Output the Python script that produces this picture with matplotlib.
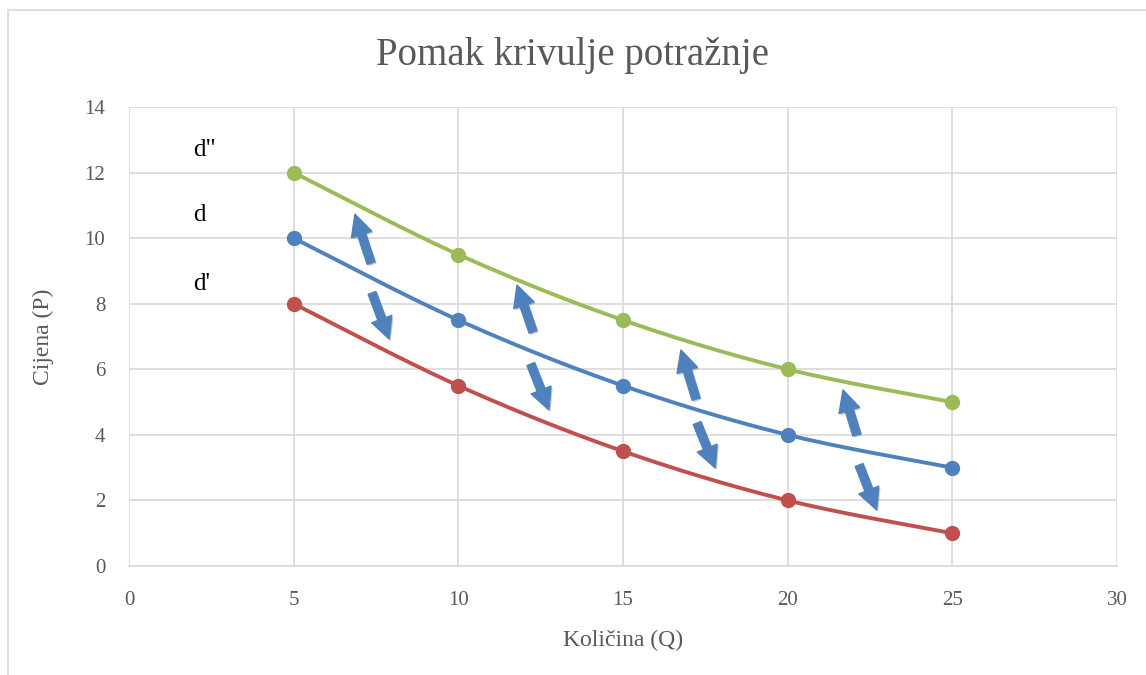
import numpy as np
import matplotlib
matplotlib.use("Agg")
import matplotlib.pyplot as plt
from matplotlib.patches import FancyArrowPatch, Rectangle
import matplotlib.patheffects as pe

# ---- data ----
quantity = [5, 10, 15, 20, 25]
price_d2 = [12, 9.5, 7.5, 6, 5]      # d''
price_d = [10, 7.5, 5.5, 4, 3]       # d
price_d1 = [8, 5.5, 3.5, 2, 1]       # d'
curve_labels = ['d"', 'd', "d'"]
label_y = [12.7, 10.7, 8.6]
label_x = 1.95

# arrows (tail x, tail y, head x, head y)
arrows_up = [(7.35, 9.24, 6.86, 10.73), (12.27, 7.14, 11.78, 8.57),
             (17.22, 5.09, 16.76, 6.59), (22.1, 4.0, 21.68, 5.37)]
arrows_down = [(7.38, 8.33, 7.9, 6.92), (12.2, 6.16, 12.75, 4.76),
               (17.25, 4.36, 17.8, 2.99), (22.17, 3.08, 22.7, 1.71)]

x_ticks = [0, 5, 10, 15, 20, 25, 30]
y_ticks = [0, 2, 4, 6, 8, 10, 12, 14]

title = "Pomak krivulje potražnje"
xlabel = "Količina (Q)"
ylabel = "Cijena (P)"

plt.rcParams['font.family'] = ['Liberation Serif', 'DejaVu Serif']


def smooth(xs, ys, n=40):
    """Excel-like smoothed line (Catmull-Rom Bezier)"""
    x = np.asarray(xs, float)
    y = np.asarray(ys, float)
    px = np.concatenate([[x[0]], x, [x[-1]]])
    py = np.concatenate([[y[0]], y, [y[-1]]])
    ox, oy = [], []
    t = np.linspace(0, 1, n)
    for i in range(1, len(x)):
        p0 = np.array([px[i - 1], py[i - 1]])
        p1 = np.array([px[i], py[i]])
        p2 = np.array([px[i + 1], py[i + 1]])
        p3 = np.array([px[i + 2], py[i + 2]])
        c1 = p1 + (p2 - p0) / 6
        c2 = p2 - (p3 - p1) / 6
        b = ((1 - t) ** 3)[:, None] * p1 + (3 * (1 - t) ** 2 * t)[:, None] * c1 \
            + (3 * (1 - t) * t ** 2)[:, None] * c2 + (t ** 3)[:, None] * p2
        ox.extend(b[:, 0])
        oy.extend(b[:, 1])
    return ox, oy


fig = plt.figure(figsize=(11.46, 6.75), dpi=100)
fig.patches.append(Rectangle((8 / 1146, -0.01), 1.1, 1 - 10 / 675 + 0.01,
                             transform=fig.transFigure, fill=False,
                             edgecolor='#D9D9D9', linewidth=1.2))
ax = fig.add_axes([129 / 1146, 1 - 566 / 675, (1117 - 129) / 1146, (566 - 107) / 675])

ax.set_xlim(0, 30)
ax.set_ylim(0, 14)
ax.set_xticks(x_ticks)
ax.set_yticks(y_ticks)
ax.grid(True, color='#D9D9D9', linewidth=1.2)
ax.set_axisbelow(True)
for s in ax.spines.values():
    s.set_visible(False)
ax.spines['bottom'].set_visible(True)
ax.spines['bottom'].set_color('#D9D9D9')
ax.spines['bottom'].set_linewidth(1.2)
ax.tick_params(length=0, labelsize=15, colors='#595959')
ax.tick_params(axis='y', pad=17)
ax.tick_params(axis='x', pad=18)

colors = ['#9BBB59', '#4F81BD', '#C0504D']
for ys, c in zip([price_d2, price_d, price_d1], colors):
    sx, sy = smooth(quantity, ys)
    ax.plot(sx, sy, color=c, linewidth=2.8, zorder=3, solid_capstyle='round')
    ax.plot(quantity, ys, 'o', color=c, markersize=10, zorder=4)

for (x0, y0, x1, y1) in arrows_up + arrows_down:
    arr = FancyArrowPatch((x0, y0), (x1, y1),
                          arrowstyle='simple,head_width=2.2,head_length=2.2,tail_width=0.85',
                          mutation_scale=7, color='#4F81BD', zorder=5,
                          shrinkA=0, shrinkB=0,
                          path_effects=[pe.SimplePatchShadow(offset=(1.2, -1.2), alpha=0.25),
                                        pe.Normal()])
    ax.add_patch(arr)

for lab, ly in zip(curve_labels, label_y):
    ax.text(label_x, ly, lab, fontsize=18, color='black', va='center', ha='left')

fig.text(0.5, 1 - 56 / 675, title, ha='center', va='center', fontsize=28, color='#595959')
ax.set_xlabel(xlabel, fontsize=17, color='#595959', labelpad=14)
ax.set_ylabel(ylabel, fontsize=17, color='#595959', labelpad=22)

fig.savefig('out.png', dpi=100)
